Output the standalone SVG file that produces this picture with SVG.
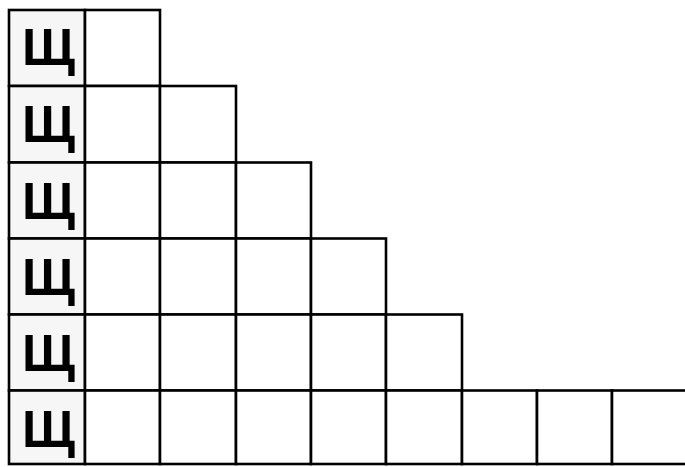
<svg xmlns="http://www.w3.org/2000/svg" width="685" height="467" viewBox="0 0 685 467">
<style>
.c{fill:#ffffff;stroke:#000;stroke-width:2.6}
.h{fill:#f6f6f6;stroke:#000;stroke-width:2.6}
.t{font-family:"Liberation Sans",Arial,sans-serif;font-weight:bold;font-size:52px;fill:#000;text-anchor:middle}
</style>
<rect width="685" height="467" fill="#fff"/>
<g id="row1">
<rect class="h" x="9" y="10" width="76" height="76"/>
<text class="t" x="48.5" y="65">Щ</text>
<rect class="c" x="85" y="10" width="75" height="76"/>
</g>
<g id="row2">
<rect class="h" x="9" y="86" width="76" height="76.5"/>
<text class="t" x="48.5" y="142">Щ</text>
<rect class="c" x="85" y="86" width="75" height="76.5"/>
<rect class="c" x="160" y="86" width="76" height="76.5"/>
</g>
<g id="row3">
<rect class="h" x="9" y="162.5" width="76" height="76"/>
<text class="t" x="48.5" y="219">Щ</text>
<rect class="c" x="85" y="162.5" width="75" height="76"/>
<rect class="c" x="160" y="162.5" width="76" height="76"/>
<rect class="c" x="236" y="162.5" width="75" height="76"/>
</g>
<g id="row4">
<rect class="h" x="9" y="238.5" width="76" height="76"/>
<text class="t" x="48.5" y="295">Щ</text>
<rect class="c" x="85" y="238.5" width="75" height="76"/>
<rect class="c" x="160" y="238.5" width="76" height="76"/>
<rect class="c" x="236" y="238.5" width="75" height="76"/>
<rect class="c" x="311" y="238.5" width="75" height="76"/>
</g>
<g id="row5">
<rect class="h" x="9" y="314.5" width="76" height="76"/>
<text class="t" x="48.5" y="371">Щ</text>
<rect class="c" x="85" y="314.5" width="75" height="76"/>
<rect class="c" x="160" y="314.5" width="76" height="76"/>
<rect class="c" x="236" y="314.5" width="75" height="76"/>
<rect class="c" x="311" y="314.5" width="75" height="76"/>
<rect class="c" x="386" y="314.5" width="76" height="76"/>
</g>
<g id="row6">
<rect class="h" x="9" y="390.5" width="76" height="73.5"/>
<text class="t" x="48.5" y="446.5">Щ</text>
<rect class="c" x="85" y="390.5" width="75" height="73.5"/>
<rect class="c" x="160" y="390.5" width="76" height="73.5"/>
<rect class="c" x="236" y="390.5" width="75" height="73.5"/>
<rect class="c" x="311" y="390.5" width="75" height="73.5"/>
<rect class="c" x="386" y="390.5" width="76" height="73.5"/>
<rect class="c" x="462" y="390.5" width="75" height="73.5"/>
<rect class="c" x="537" y="390.5" width="75" height="73.5"/>
<rect class="c" x="612" y="390.5" width="80" height="73.5"/>
</g>
</svg>
